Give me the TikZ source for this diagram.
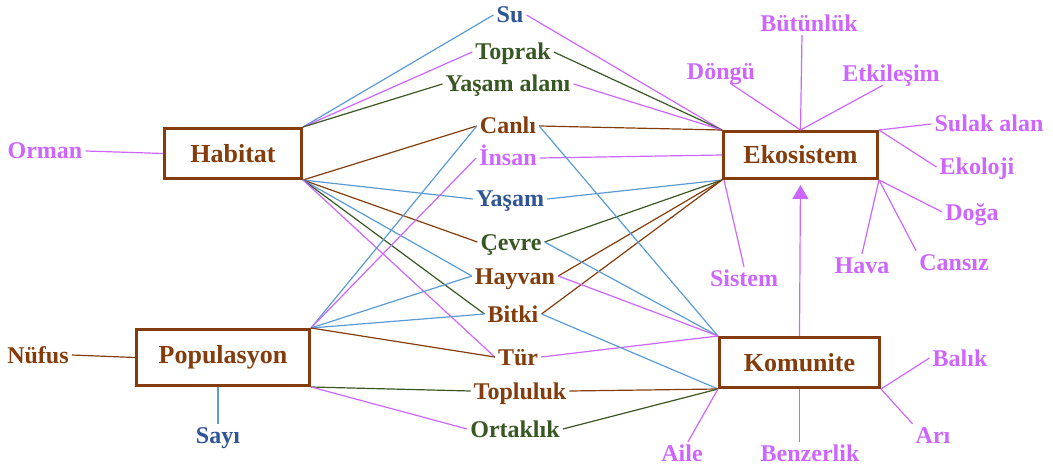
\documentclass[tikz,border=0pt]{standalone}
\usepackage{fontspec}
\setmainfont{Liberation Serif}
\usetikzlibrary{arrows.meta}
\definecolor{cbrown}{HTML}{843C0C}
\definecolor{cgreen}{HTML}{385723}
\definecolor{cblue}{HTML}{2F5597}
\definecolor{cpink}{HTML}{CC66FF}
\definecolor{clblue}{HTML}{5B9BD5}
\begin{document}
\begin{tikzpicture}[x=1pt,y=-1pt,
  lbl/.style={font=\bfseries\fontsize{24}{24}\selectfont, inner sep=3pt, text height=16pt, text depth=0pt},
  tbrown/.style={lbl, text=cbrown},
  tgreen/.style={lbl, text=cgreen},
  tblue/.style={lbl, text=cblue},
  tpink/.style={lbl, text=cpink},
  box/.style={draw=cbrown, line width=3pt, text=cbrown, font=\bfseries\fontsize{26}{26}\selectfont, inner sep=0pt},
  ln/.style={line width=1.2pt},
  lbr/.style={ln, draw=cbrown},
  lgr/.style={ln, draw=cgreen},
  lbl/.append style={},
  lbu/.style={ln, draw=clblue},
  lpk/.style={ln, draw=cpink}
]
\useasboundingbox (0,0) rectangle (1053,468);

% boxes
\node[box, minimum width=137pt, minimum height=50pt] (hab) at (233,153.5) {Habitat};
\node[box, minimum width=173pt, minimum height=56pt] (pop) at (223,357.5) {Populasyon};
\node[box, minimum width=154pt, minimum height=47pt] (eko) at (800.5,155) {Ekosistem};
\node[box, minimum width=160pt, minimum height=50pt] (kom) at (799.5,362.5) {Komunite};

% centre column
\node[tblue]  (su)       at (510,15)  {Su};
\node[tgreen] (toprak)   at (513,52)  {Toprak};
\node[tgreen] (yalan)    at (508,84)  {Yaşam alanı};
\node[tbrown] (canli)    at (508,126) {Canlı};
\node[tpink]  (insan)    at (508,158) {İnsan};
\node[tblue]  (yasam)    at (510,199) {Yaşam};
\node[tgreen] (cevre)    at (511,242) {Çevre};
\node[tbrown] (hayvan)   at (515,276) {Hayvan};
\node[tbrown] (bitki)    at (513,314) {Bitki};
\node[tbrown] (tur)      at (518,357) {Tür};
\node[tbrown] (topluluk) at (520,391) {Topluluk};
\node[tgreen] (ortaklik) at (515,429) {Ortaklık};

% left satellites
\node[tpink]  (orman) at (45,151)  {Orman};
\node[tbrown] (nufus) at (38,355)  {Nüfus};
\node[tblue]  (sayi)  at (218,435) {Sayı};

% Ekosistem satellites
\node[tpink] (butun)  at (809,24)  {Bütünlük};
\node[tpink] (dongu)  at (721,72)  {Döngü};
\node[tpink] (etki)   at (891,74)  {Etkileşim};
\node[tpink] (sulak)  at (989,124) {Sulak alan};
\node[tpink] (ekoloji) at (977,167) {Ekoloji};
\node[tpink] (doga)   at (972,212) {Doğa};
\node[tpink] (hava)   at (862,265) {Hava};
\node[tpink] (cansiz) at (954,262) {Cansız};
\node[tpink] (sistem) at (744,278) {Sistem};

% Komunite satellites
\node[tpink] (balik) at (960,358) {Balık};
\node[tpink] (ari)   at (933,435) {Arı};
\node[tpink] (aile)  at (682,453) {Aile};
\node[tpink] (benz)  at (810,453) {Benzerlik};

% Habitat connectors
\draw[lbu] (hab.north east) -- (su.west);
\draw[lpk] (hab.north east) -- (toprak.west);
\draw[lgr] (hab.north east) -- (yalan.west);
\draw[lbr] (hab.south east) -- (canli.west);
\draw[lbu] (hab.south east) -- (yasam.west);
\draw[lbr] (hab.south east) -- (cevre.west);
\draw[lbu] (hab.south east) -- (hayvan.west);
\draw[lgr] (hab.south east) -- (bitki.west);
\draw[lpk] (hab.south east) -- (tur.west);
\draw[lpk] (orman.east) -- (hab.west);

% Populasyon connectors
\draw[lbu] (pop.north east) -- (canli.west);
\draw[lpk] (pop.north east) -- (insan.west);
\draw[lbu] (pop.north east) -- (hayvan.west);
\draw[lbu] (pop.north east) -- (bitki.west);
\draw[lbr] (pop.north east) -- (tur.west);
\draw[lgr] (pop.south east) -- (topluluk.west);
\draw[lpk] (pop.south east) -- (ortaklik.west);
\draw[lbr] (nufus.east) -- (pop.west);
\draw[lbu] (sayi.north) -- (sayi.north |- pop.south);

% Ekosistem connectors
\draw[lpk] (su.east) -- (eko.north west);
\draw[lgr] (toprak.east) -- (eko.north west);
\draw[lpk] (yalan.east) -- (eko.north west);
\draw[lbr] (canli.east) -- (eko.north west);
\draw[lpk] (insan.east) -- (eko.west);
\draw[lbu] (yasam.east) -- (eko.south west);
\draw[lgr] (cevre.east) -- (eko.south west);
\draw[lbr] (hayvan.east) -- (eko.south west);
\draw[lbr] (bitki.east) -- (eko.south west);
\draw[lpk] ([xshift=9pt]dongu.south) -- (eko.north);
\draw[lpk] ([xshift=-7pt]butun.south) -- (eko.north);
\draw[lpk] ([xshift=-8pt]etki.south) -- (eko.north);
\draw[lpk] (eko.north east) -- (sulak.west);
\draw[lpk] (eko.north east) -- (ekoloji.west);
\draw[lpk] (eko.south east) -- (doga.west);
\draw[lpk] (eko.south east) -- (hava.north);
\draw[lpk] (eko.south east) -- (cansiz.north west);
\draw[lpk] ([xshift=2pt]eko.south west) -- (sistem.north);

% Komunite connectors
\draw[lbu] (canli.east) -- (kom.north west);
\draw[lbu] (cevre.east) -- (kom.north west);
\draw[lpk] (hayvan.east) -- (kom.north west);
\draw[lpk] (tur.east) -- (kom.north west);
\draw[lbu] (bitki.east) -- (kom.south west);
\draw[lbr] (topluluk.east) -- (kom.south west);
\draw[lgr] (ortaklik.east) -- (kom.south west);
\draw[lpk] (kom.south west) -- ([xshift=6pt]aile.north);
\draw[lpk] (kom.south) -- (kom.south |- benz.north);
\draw[lpk] (kom.south east) -- (balik.west);
\draw[lpk] (kom.south east) -- (ari.north west);
\draw[lpk, -{Triangle[width=16pt,length=14pt]}, shorten >=5pt] (kom.north) -- (eko.south);
\end{tikzpicture}
\end{document}
